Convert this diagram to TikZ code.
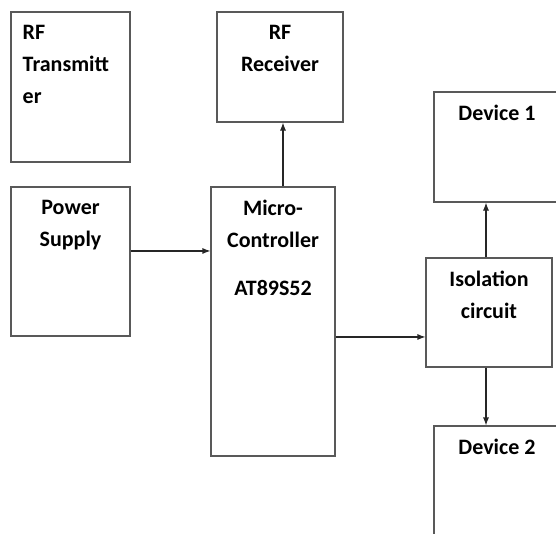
\documentclass[tikz,border=0pt]{standalone}
\usepackage{fontspec}
\setmainfont{Carlito}
\usetikzlibrary{positioning,arrows.meta}
\begin{document}
\begin{tikzpicture}[
    x=0.75pt, y=-0.75pt,
    block/.style={draw=black!65, line width=0.8pt, inner sep=0pt,
                  minimum width=94.5pt, minimum height=82.5pt},
    txt/.style={align=center, inner sep=0pt,
                font=\fontsize{16.5}{24}\selectfont\bfseries},
    arr/.style={draw=black!85, line width=0.8pt, -{Latex[length=6pt,width=4.5pt]}},
  ]
  \useasboundingbox (0,0) rectangle (556,533);
  \clip (0,0) rectangle (556,533);
  \node[block, minimum width=89.25pt, minimum height=112.5pt] (tx) at (70.5,87) {};
  \node[block] (rx) at (280,67) {};
  \node[block, minimum width=89.25pt, minimum height=111.75pt] (ps) at (70.5,261.5) {};
  \node[block, minimum width=93pt, minimum height=201.75pt] (mc) at (273,321.5) {};
  \node[block, minimum height=81.75pt] (iso) at (489,312.5) {};
  \node[block] (dev1) at (497,147) {};
  \node[block] (dev2) at (497,481) {};

  \node[txt, align=left, anchor=north west] (txt-tx) at ([xshift=9pt,yshift=-10pt]tx.north west) {RF\\Transmitt\\er};
  \node[txt, below=10pt of rx.north] (txt-rx) {RF\\Receiver};
  \node[txt, below=10pt of ps.north] (txt-ps) {Power\\Supply};
  \node[txt, below=10pt of mc.north] (txt-mc) {Micro-\\Controller\\[12pt]AT89S52};
  \node[txt, below=10pt of iso.north] (txt-iso) {Isolation\\circuit};
  \node[txt, below=10pt of dev1.north] (txt-dev1) {Device 1};
  \node[txt, below=10pt of dev2.north] (txt-dev2) {Device 2};

  \draw[arr] ([yshift=7.9pt]ps.east) -- ([yshift=7.9pt]ps.east -| mc.west);
  \draw[arr] ([xshift=7.5pt]mc.north) -- ([xshift=7.5pt]mc.north |- rx.south);
  \draw[arr] ([yshift=-11.6pt]mc.east) -- ([yshift=-11.6pt]mc.east -| iso.west);
  \draw[arr] ([xshift=-2.25pt]iso.north) -- ([xshift=-2.25pt]iso.north |- dev1.south);
  \draw[arr] ([xshift=-2.25pt]iso.south) -- ([xshift=-2.25pt]iso.south |- dev2.north);
\end{tikzpicture}
\end{document}
